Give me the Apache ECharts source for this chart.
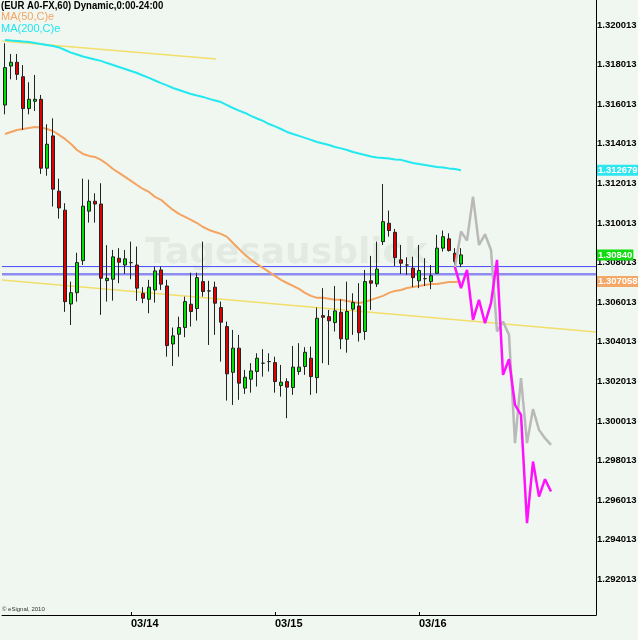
<!DOCTYPE html>
<html>
<head>
<meta charset="utf-8">
<script src="https://cdn.jsdelivr.net/npm/echarts@6/dist/echarts.min.js"></script>
<style>
html,body{margin:0;padding:0;background:#f0f7f0;overflow:hidden;}
#c{width:638px;height:640px;}
</style>
</head>
<body>
<div id="c"></div>
<script>
// ---- data ----
const dayLabels = ['03/14', '03/15', '03/16'];
const dayIndex = [21, 45, 69];
const yTicks = [1.292013, 1.294013, 1.296013, 1.298013, 1.300013, 1.302013, 1.304013, 1.306013,
  1.308013, 1.310013, 1.312013, 1.314013, 1.316013, 1.318013, 1.320013];

const opens = [1.31597,1.31794,1.31813,1.31740,1.31579,1.31616,1.31626,1.31278,1.31441,1.31162,
  1.31066,1.30592,1.30649,1.30811,1.31061,1.31111,1.31097,1.30710,1.30717,1.30823,
  1.30789,1.30801,1.30789,1.30646,1.30616,1.30663,1.30764,1.30683,1.30390,1.30439,
  1.30473,1.30591,1.30569,1.30705,1.30658,1.30677,1.30574,1.30478,1.30247,1.30369,
  1.30167,1.30212,1.30251,1.30293,1.30301,1.30296,1.30180,1.30200,1.30170,1.30251,
  1.30276,1.30318,1.30220,1.30533,1.30528,1.30498,1.30550,1.30414,1.30566,1.30582,
  1.30453,1.30709,1.30693,1.30907,1.31000,1.30954,1.30815,1.30789,1.30773,1.30709,
  1.30720,1.30705,1.30747,1.30874,1.30921,1.30848,1.30794];
const closes = [1.31786,1.31813,1.31752,1.31579,1.31626,1.31626,1.31278,1.31399,1.31172,1.31077,
  1.30604,1.30649,1.30801,1.31086,1.31111,1.31097,1.30722,1.30722,1.30830,1.30803,
  1.30820,1.30801,1.30672,1.30621,1.30677,1.30759,1.30692,1.30382,1.30431,1.30473,
  1.30604,1.30554,1.30725,1.30655,1.30658,1.30596,1.30500,1.30239,1.30369,1.30192,
  1.30222,1.30254,1.30318,1.30293,1.30301,1.30200,1.30197,1.30172,1.30273,1.30273,
  1.30348,1.30225,1.30520,1.30525,1.30507,1.30557,1.30416,1.30554,1.30599,1.30447,
  1.30705,1.30697,1.30768,1.31008,1.30963,1.30826,1.30798,1.30789,1.30725,1.30761,
  1.30720,1.30735,1.30874,1.30932,1.30862,1.30806,1.30840];
const lows = [1.31550,1.31727,1.31724,1.31471,1.31550,1.31567,1.31249,1.31240,1.31084,1.31023,
  1.30552,1.30486,1.30604,1.30789,1.31003,1.31003,1.30537,1.30604,1.30609,1.30697,
  1.30744,1.30717,1.30608,1.30596,1.30545,1.30599,1.30663,1.30326,1.30279,1.30326,
  1.30424,1.30478,1.30508,1.30629,1.30385,1.30436,1.30301,1.30104,1.30082,1.30108,
  1.30138,1.30144,1.30175,1.30225,1.30251,1.30144,1.30124,1.30015,1.30133,1.30234,
  1.30234,1.30133,1.30141,1.30293,1.30284,1.30453,1.30364,1.30346,1.30436,1.30402,
  1.30411,1.30562,1.30678,1.30890,1.30932,1.30784,1.30744,1.30739,1.30677,1.30672,
  1.30683,1.30667,1.30744,1.30857,1.30857,1.30773,1.30778];
const highs = [1.31909,1.31855,1.31855,1.31799,1.31712,1.31749,1.31648,1.31500,1.31530,1.31225,
  1.31101,1.30705,1.30851,1.31225,1.31220,1.31151,1.31202,1.30889,1.30865,1.30874,
  1.30865,1.30907,1.30882,1.30677,1.30714,1.30781,1.30781,1.30714,1.30473,1.30528,
  1.30629,1.30750,1.30750,1.30907,1.30709,1.30705,1.30604,1.30503,1.30461,1.30436,
  1.30259,1.30293,1.30343,1.30364,1.30343,1.30326,1.30284,1.30217,1.30380,1.30394,
  1.30374,1.30377,1.30574,1.30672,1.30562,1.30683,1.30616,1.30705,1.30646,1.30697,
  1.30764,1.30835,1.30907,1.31198,1.31064,1.30971,1.30890,1.30828,1.30831,1.30890,
  1.30823,1.30789,1.30941,1.30963,1.30949,1.30874,1.30874];

const ma50 = [1.31451,1.31461,1.31471,1.31476,1.31481,1.31486,1.31484,1.31476,1.31466,1.31446,
  1.31426,1.31400,1.31370,1.31350,1.31340,1.31335,1.31320,1.31299,1.31274,1.31254,
  1.31234,1.31214,1.31193,1.31173,1.31158,1.31133,1.31118,1.31092,1.31067,1.31047,
  1.31032,1.31017,1.31001,1.30981,1.30966,1.30956,1.30946,1.30931,1.30900,1.30870,
  1.30840,1.30815,1.30794,1.30774,1.30754,1.30734,1.30714,1.30698,1.30683,1.30668,
  1.30648,1.30633,1.30623,1.30623,1.30618,1.30613,1.30613,1.30607,1.30602,1.30597,
  1.30602,1.30613,1.30623,1.30633,1.30648,1.30658,1.30663,1.30673,1.30678,1.30683,
  1.30688,1.30693,1.30693,1.30698,1.30703,1.30703,1.30706];
const ma200 = [1.31926,1.31923,1.31921,1.31918,1.31916,1.31910,1.31905,1.31900,1.31895,1.31888,
  1.31875,1.31862,1.31852,1.31842,1.31835,1.31827,1.31820,1.31809,1.31799,1.31789,
  1.31779,1.31769,1.31759,1.31746,1.31734,1.31721,1.31708,1.31696,1.31683,1.31673,
  1.31663,1.31653,1.31645,1.31638,1.31628,1.31620,1.31612,1.31597,1.31582,1.31569,
  1.31557,1.31542,1.31529,1.31517,1.31501,1.31489,1.31476,1.31461,1.31451,1.31441,
  1.31431,1.31421,1.31410,1.31403,1.31395,1.31385,1.31378,1.31370,1.31360,1.31352,
  1.31345,1.31337,1.31332,1.31330,1.31327,1.31322,1.31320,1.31312,1.31304,1.31299,
  1.31294,1.31289,1.31284,1.31282,1.31277,1.31274,1.31268];

const forecastIdx = [75,76,77,78,79,80,81,82,83,84,85,86,87,88,89,90,91];
const forecastMagenta = [1.30778,1.30672,1.30764,1.30512,1.30613,1.30495,1.30596,1.30815,1.30234,
  1.30313,1.30082,1.30032,1.29485,1.29796,1.29619,1.29707,1.29645];
const forecastGray = [1.30778,1.30958,1.30912,1.31134,1.30890,1.30944,1.30865,1.30453,1.30503,
  1.30436,1.29889,1.30217,1.29889,1.30061,1.29956,1.29914,1.29880];

const trendUpper = [[-0.5, 1.31921], [35.2, 1.31830]];
const trendLower = [[-0.5, 1.30713], [98.5, 1.30451]];
const levelLines = [1.30781, 1.30742];
const priceTags = [1.312679, 1.30840, 1.307058];
const priceTagText = ['1.312679', '1.30840', '1.307058'];

// ---- build ----
const nCat = 99;
const xMin = -0.5, xMax = 98.5;
const categories = [];
for (let i = 0; i < nCat; i++) categories.push(String(i));
const candleData = opens.map((o, i) => [o, closes[i], lows[i], highs[i]]);
const zip = (xs, ys) => xs.map((x, i) => [x, ys[i]]);

const sansB = "'Liberation Sans', Arial, sans-serif";
const tagColors = ['#2ee6f0', '#10dc10', '#f4a868'];
const levelColors = ['#4a4aff', '#8c8cf2'];
const levelWidths = [1, 2.5];

const levelSeries = levelLines.map((v, i) => ({
  type: 'line', xAxisIndex: 1, yAxisIndex: 0, data: [[xMin, v], [xMax, v]], symbol: 'none',
  lineStyle: {color: levelColors[i], width: levelWidths[i]}, z: 2, silent: true
}));

const tagSeries = {
  type: 'scatter', xAxisIndex: 1, yAxisIndex: 0, clip: false, symbol: 'rect', symbolSize: 0.01,
  itemStyle: {color: 'rgba(0,0,0,0)'}, z: 10, silent: true,
  data: priceTags.map((v, i) => ({
    value: [xMax, v],
    label: {show: true, position: 'right', distance: 1, formatter: priceTagText[i],
      color: '#fff', fontSize: 9.5, fontWeight: 'bold', fontFamily: sansB,
      backgroundColor: tagColors[i], padding: [1, 1, 0, 1], opacity: 1}
  }))
};

const chart = echarts.init(document.getElementById('c'), null, {renderer: 'canvas', width: 638, height: 640});
const option = {
  animation: false,
  backgroundColor: '#f0f7f0',
  grid: {left: 2, right: 42, top: 0, bottom: 25, containLabel: false, outerBoundsMode: 'none'},
  xAxis: [{
    type: 'category', data: categories, boundaryGap: true,
    axisLine: {show: true, onZero: false, lineStyle: {color: '#000', width: 1}},
    axisTick: {show: true, inside: true, length: 3, alignWithLabel: true,
      interval: (i) => dayIndex.includes(i), lineStyle: {color: '#000'}},
    axisLabel: {interval: (i) => dayIndex.includes(i),
      formatter: (v) => { const k = dayIndex.indexOf(Number(v)); return k >= 0 ? dayLabels[k] : ''; },
      align: 'left', margin: 3, fontSize: 11, fontWeight: 'bold', color: '#000', fontFamily: sansB},
    splitLine: {show: false}
  }, {
    type: 'value', min: xMin, max: xMax, show: false,
    axisLine: {onZero: false}
  }],
  yAxis: [{
    type: 'value', position: 'right', scale: true,
    min: 1.290209, max: 1.321276,
    axisLine: {show: true, onZero: false, lineStyle: {color: '#000', width: 1}},
    axisTick: {show: false},
    splitLine: {show: false},
    axisLabel: {customValues: yTicks, formatter: (v) => v.toFixed(6), margin: 1,
      fontSize: 9.5, fontWeight: 'bold', color: '#000', fontFamily: sansB}
  }],
  graphic: [
    {type: 'text', left: 145, top: 236, z: 0, silent: true,
      style: {text: 'Tagesausblick', font: 'bold 36px "DejaVu Sans", sans-serif', fill: 'rgba(0,40,0,0.055)'}},
    {type: 'text', x: 1, y: 0, scaleX: 0.87, z: 100,
      style: {text: '(EUR A0-FX,60) Dynamic,0:00-24:00', font: 'bold 11px ' + sansB, fill: '#000'}},
    {type: 'text', x: 1, y: 11, z: 100,
      style: {text: 'MA(50,C)e', font: '11px ' + sansB, fill: '#f4a460'}},
    {type: 'text', x: 1, y: 23, z: 100,
      style: {text: 'MA(200,C)e', font: '11px ' + sansB, fill: '#1ee6f0'}},
    {type: 'text', x: 2, y: 606, z: 100,
      style: {text: '\u00a9 eSignal, 2010', font: '6px Arial, sans-serif', fill: '#333'}}
  ],
  series: [
    {type: 'line', xAxisIndex: 1, yAxisIndex: 0, data: trendUpper, symbol: 'none',
      lineStyle: {color: '#f2de6a', width: 1.5}, z: 1},
    {type: 'line', xAxisIndex: 1, yAxisIndex: 0, data: trendLower, symbol: 'none',
      lineStyle: {color: '#f2de6a', width: 1.5}, z: 1},
    ...levelSeries,
    {type: 'line', xAxisIndex: 0, yAxisIndex: 0, data: ma50, symbol: 'none',
      lineStyle: {color: '#f4a460', width: 2}, z: 3},
    {type: 'line', xAxisIndex: 0, yAxisIndex: 0, data: ma200, symbol: 'none',
      lineStyle: {color: '#22e8f0', width: 2}, z: 3},
    {type: 'candlestick', xAxisIndex: 0, yAxisIndex: 0, data: candleData, barWidth: 4,
      itemStyle: {color: '#00e000', color0: '#e00000', borderColor: '#222', borderColor0: '#222', borderWidth: 1},
      z: 4},
    {type: 'line', xAxisIndex: 1, yAxisIndex: 0, data: zip(forecastIdx, forecastGray), symbol: 'none',
      lineStyle: {color: '#b9b9b9', width: 2.5}, z: 5},
    {type: 'line', xAxisIndex: 1, yAxisIndex: 0, data: zip(forecastIdx, forecastMagenta), symbol: 'none',
      lineStyle: {color: '#ff10ff', width: 2.5}, z: 6},
    tagSeries
  ]
};
chart.setOption(option);
</script>
</body>
</html>
